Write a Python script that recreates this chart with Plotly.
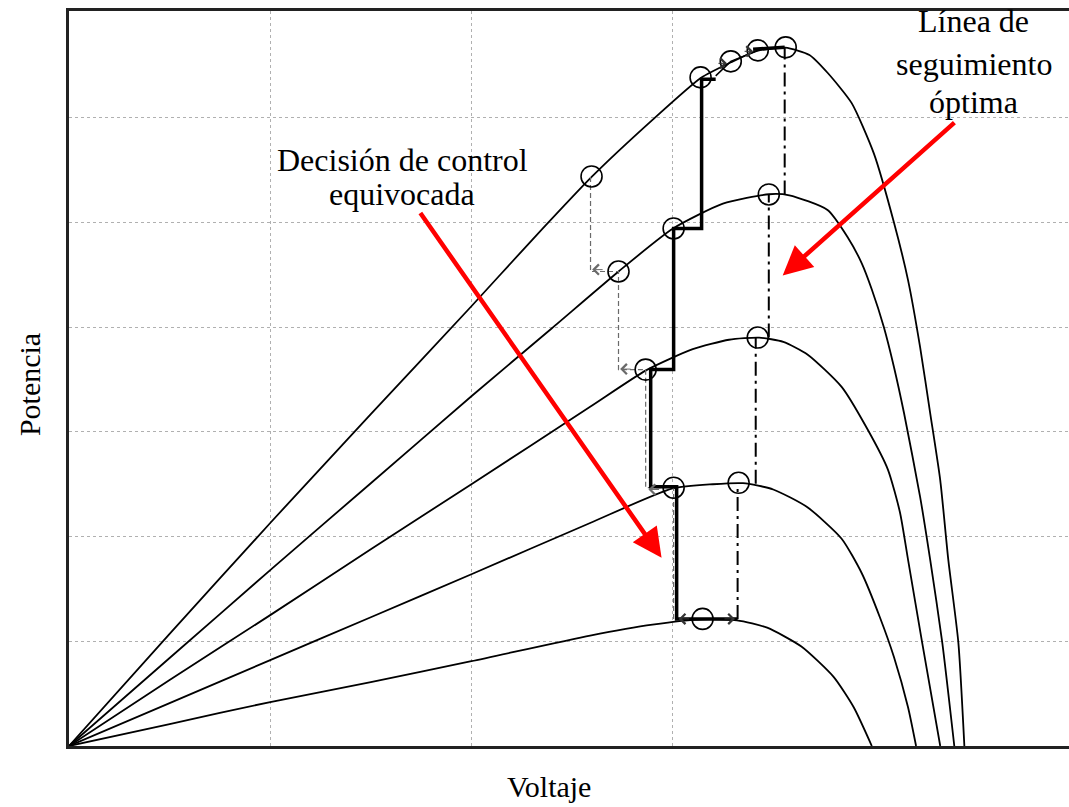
import plotly.graph_objects as go

# ---- P-V curves for five irradiance levels (voltage, power; relative units) ----
v_g1 = [0, 0.5, 1.0, 1.5, 2.0, 2.3, 2.6, 2.9, 3.14, 3.29, 3.42, 3.56, 3.68, 3.77, 3.89, 4.0, 4.10, 4.17, 4.23, 4.28, 4.33, 4.37, 4.42, 4.45]
p_g1 = [0, 1.07, 2.13, 3.17, 4.2, 4.83, 5.44, 5.98, 6.38, 6.53, 6.64, 6.67, 6.60, 6.43, 6.14, 5.66, 5.0, 4.45, 3.81, 3.18, 2.54, 1.78, 0.99, 0]

v_g2 = [0, 0.5, 1.0, 1.5, 2.0, 2.4, 2.73, 3.0, 3.25, 3.48, 3.58, 3.77, 3.87, 3.94, 3.99, 4.05, 4.10, 4.15, 4.23, 4.28, 4.34, 4.40]
p_g2 = [0, 0.84, 1.68, 2.51, 3.34, 3.99, 4.53, 4.94, 5.18, 5.27, 5.26, 5.12, 4.86, 4.61, 4.36, 4.0, 3.62, 3.18, 2.38, 1.78, 0.99, 0]

v_g3 = [0, 0.5, 1.0, 1.5, 2.0, 2.59, 2.87, 3.1, 3.28, 3.43, 3.55, 3.67, 3.84, 3.97, 4.07, 4.13, 4.17, 4.24, 4.33]
p_g3 = [0, 0.63, 1.25, 1.88, 2.5, 3.24, 3.59, 3.79, 3.88, 3.90, 3.86, 3.74, 3.43, 3.02, 2.64, 2.23, 1.78, 0.99, 0]

v_g4 = [0, 0.5, 1.0, 1.5, 2.0, 2.59, 3.0, 3.2, 3.35, 3.5, 3.67, 3.84, 3.94, 4.03, 4.10, 4.17, 4.21]
p_g4 = [0, 0.41, 0.82, 1.23, 1.64, 2.13, 2.46, 2.50, 2.51, 2.45, 2.28, 1.98, 1.65, 1.23, 0.85, 0.37, 0]

v_g5 = [0, 0.5, 1.0, 1.5, 2.0, 2.59, 2.9, 3.15, 3.32, 3.47, 3.64, 3.80, 3.90, 3.99]
p_g5 = [0, 0.21, 0.42, 0.61, 0.81, 1.055, 1.16, 1.21, 1.20, 1.13, 0.95, 0.66, 0.37, 0]

curves = [(v_g1, p_g1), (v_g2, p_g2), (v_g3, p_g3), (v_g4, p_g4), (v_g5, p_g5)]

# ---- operating points marked with circles ----
op_v = [2.597, 3.139, 3.289, 3.423, 3.562, 2.731, 3.005, 3.478, 2.866, 3.423, 3.005, 3.328, 3.149]
op_p = [5.44, 6.386, 6.539, 6.644, 6.673, 4.532, 4.943, 5.268, 3.595, 3.901, 2.467, 2.514, 1.214]

# ---- path drifting away from the MPP (thin dashed) ----
drift_v = [3.005, 3.005, 2.866, 2.866, 2.731, 2.731, 2.592, 2.592]
drift_p = [1.214, 2.467, 2.467, 3.595, 3.595, 4.532, 4.532, 5.44]

# ---- operating-point staircase (thick) ----
stair_v = [3.323, 3.02, 3.02, 2.891, 2.891, 3.005, 3.005, 3.144, 3.144, 3.214]
stair_p = [1.214, 1.214, 2.476, 2.476, 3.595, 3.595, 4.943, 4.943, 6.367, 6.367]
top_v = [3.214, 3.289, 3.423]
top_p = [6.40, 6.539, 6.644]
peak_v = [3.40, 3.557]
peak_p = [6.655, 6.673]

# ---- optimal tracking line (dash-dot) ----
opt_v = [3.323, 3.323, None, 3.413, 3.413, None, 3.478, 3.478, None, 3.557, 3.557]
opt_p = [1.214, 2.505, None, 2.505, 3.901, None, 3.901, 5.268, None, 5.268, 6.673]

# small chevrons on the tracking paths: (v, p, dx_px) - head at (v,p), tail dx pixels to the side
chev_gray = [(2.600, 4.55, 12), (2.739, 3.60, 12), (2.880, 2.45, 12)]
chev_dark = [(3.03, 1.214, 12), (3.31, 1.214, -12), (3.27, 6.52, -10), (3.40, 6.635, -10)]

# text lines: (text, v, p)
label_wrong = [("Decisión de control", 1.657, 5.60), ("equivocada", 1.657, 5.27)]
label_opt = [("Línea de", 4.497, 6.92), ("seguimiento", 4.497, 6.51), ("óptima", 4.497, 6.15)]

SERIF = "Liberation Serif, Times New Roman, serif"

fig = go.Figure()

for v, p in curves:
    fig.add_trace(go.Scatter(x=v, y=p, mode="lines",
                             line=dict(color="black", width=1.8, shape="spline", smoothing=0.6),
                             hoverinfo="skip", showlegend=False))

fig.add_trace(go.Scatter(x=drift_v, y=drift_p, mode="lines",
                         line=dict(color="#6a6a6a", width=1.2, dash="5px,3px"),
                         hoverinfo="skip", showlegend=False))
fig.add_trace(go.Scatter(x=opt_v, y=opt_p, mode="lines",
                         line=dict(color="black", width=2, dash="14px,5px,3px,5px"),
                         hoverinfo="skip", showlegend=False))
fig.add_trace(go.Scatter(x=stair_v, y=stair_p, mode="lines",
                         line=dict(color="black", width=3.5),
                         hoverinfo="skip", showlegend=False))
fig.add_trace(go.Scatter(x=top_v, y=top_p, mode="lines",
                         line=dict(color="black", width=1.5),
                         hoverinfo="skip", showlegend=False))
fig.add_trace(go.Scatter(x=peak_v, y=peak_p, mode="lines",
                         line=dict(color="black", width=3.5),
                         hoverinfo="skip", showlegend=False))
fig.add_trace(go.Scatter(x=op_v, y=op_p, mode="markers",
                         marker=dict(symbol="circle-open", size=21, color="black",
                                     line=dict(color="black", width=1.6)),
                         hoverinfo="skip", showlegend=False))

annotations = []
for v, p, dx in chev_gray:
    annotations.append(dict(x=v, y=p, xref="x", yref="y", ax=dx, ay=0, text="",
                            showarrow=True, arrowhead=4, arrowsize=2, arrowwidth=1,
                            arrowcolor="#6a6a6a"))
for v, p, dx in chev_dark:
    annotations.append(dict(x=v, y=p, xref="x", yref="y", ax=dx, ay=0, text="",
                            showarrow=True, arrowhead=4, arrowsize=2, arrowwidth=1,
                            arrowcolor="#333333"))

# red pointer arrows
annotations.append(dict(x=2.945, y=1.797, ax=1.741, ay=5.105, xref="x", yref="y",
                        axref="x", ayref="y", text="", showarrow=True,
                        arrowhead=2, arrowsize=1.3, arrowwidth=4.5, arrowcolor="#ff0000"))
annotations.append(dict(x=3.547, y=4.493, ax=4.408, ay=5.966, xref="x", yref="y",
                        axref="x", ayref="y", text="", showarrow=True,
                        arrowhead=2, arrowsize=1.3, arrowwidth=4.5, arrowcolor="#ff0000"))

# text labels
for txt, v, p in label_wrong + label_opt:
    annotations.append(dict(x=v, y=p, xref="x", yref="y", showarrow=False, text=txt,
                            xanchor="center", yanchor="middle",
                            font=dict(family=SERIF, size=32, color="black")))
annotations.append(dict(x=0.48, y=0, xref="paper", yref="paper", yanchor="top",
                        yshift=-22, showarrow=False, text="Voltaje",
                        font=dict(family=SERIF, size=30, color="black")))
annotations.append(dict(x=0, y=0.491, xref="paper", yref="paper", xanchor="center",
                        yanchor="middle", xshift=-40, showarrow=False, text="Potencia",
                        textangle=-90, font=dict(family=SERIF, size=30, color="black")))

fig.update_layout(
    width=1069, height=807,
    margin=dict(l=69, r=0, t=11, b=61),
    paper_bgcolor="white", plot_bgcolor="white",
    annotations=annotations,
    xaxis=dict(range=[0, 4.97], tickvals=[1, 2, 3], showticklabels=False, ticks="",
               showgrid=True, gridcolor="#b0b0b0", griddash="dot", gridwidth=1,
               zeroline=False, showline=True, linecolor="#222222", linewidth=2.5,
               mirror=True),
    yaxis=dict(range=[0, 7.02], tickvals=[1, 2, 3, 4, 5, 6], showticklabels=False, ticks="",
               showgrid=True, gridcolor="#b0b0b0", griddash="dot", gridwidth=1,
               zeroline=False, showline=True, linecolor="#222222", linewidth=2.5,
               mirror=False),
)

fig.write_html("out.html")
